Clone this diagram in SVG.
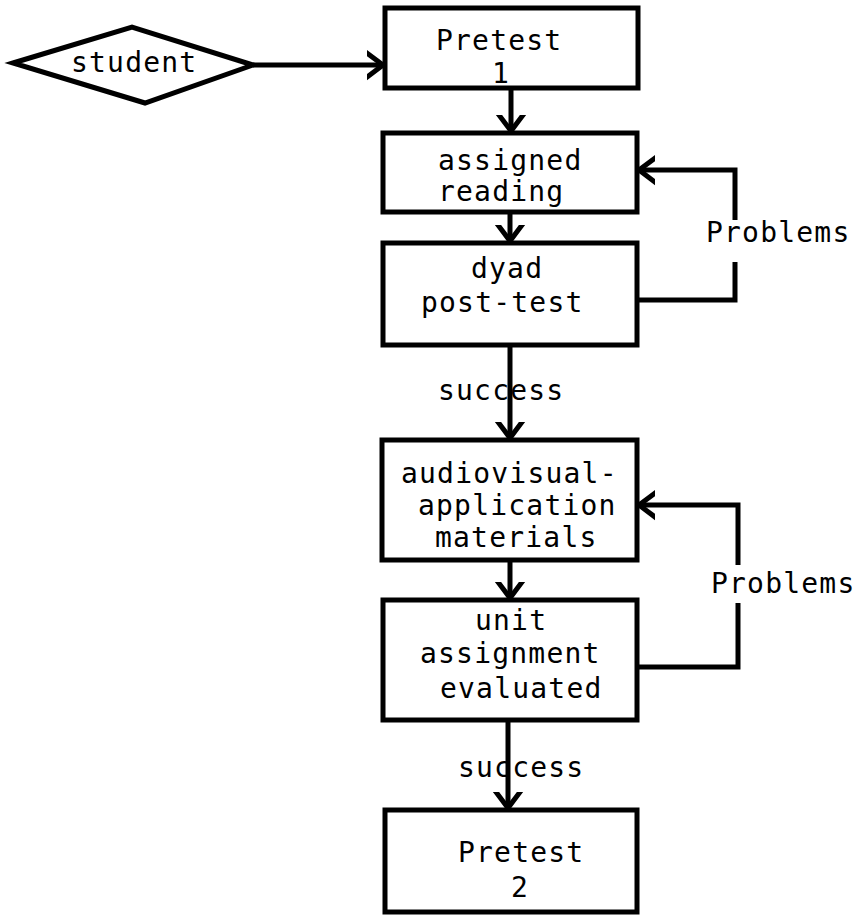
<svg xmlns="http://www.w3.org/2000/svg" width="856" height="915" viewBox="0 0 856 915">
<defs>
<style>
.box{fill:#fff;stroke:#000;stroke-width:5;stroke-linejoin:miter}
.ln{fill:none;stroke:#000;stroke-width:5}
text{font-family:"DejaVu Sans Mono","Liberation Mono",monospace;font-size:28px;letter-spacing:1.2px;fill:#000}
</style>
<marker id="chev" markerUnits="userSpaceOnUse" markerWidth="30" markerHeight="36" viewBox="-16 -18 30 36" refX="0" refY="0" orient="auto">
<path d="M-20,-15 L0,0 L-20,15" fill="none" stroke="#000" stroke-width="5" stroke-linecap="round"/>
</marker>
</defs>
<rect width="856" height="915" fill="#fff"/>
<g id="connectors">
<path class="ln" d="M253,65 H383" marker-end="url(#chev)"/>
<path class="ln" d="M511,88 V131" marker-end="url(#chev)"/>
<path class="ln" d="M510,212 V241" marker-end="url(#chev)"/>
<path class="ln" d="M637,300 H735 V262"/>
<path class="ln" d="M735,220 V170 H639" marker-end="url(#chev)"/>
<path class="ln" d="M510,345 V438" marker-end="url(#chev)"/>
<path class="ln" d="M510,560 V598" marker-end="url(#chev)"/>
<path class="ln" d="M637,667 H738 V603"/>
<path class="ln" d="M738,565 V505 H639" marker-end="url(#chev)"/>
<path class="ln" d="M508,720 V808" marker-end="url(#chev)"/>
<text x="706" y="242">Problems</text>
<text x="711" y="593">Problems</text>
<text x="438" y="400">success</text>
<text x="458" y="777">success</text>
</g>
<g id="student">
<polygon points="13,63 132,27 253,65 145,103" fill="#fff" stroke="#000" stroke-width="5" stroke-linejoin="miter"/>
<text x="71" y="72">student</text>
</g>
<g id="pretest1">
<rect class="box" x="385" y="8" width="253" height="80"/>
<text x="436" y="50">Pretest</text>
<text x="492" y="83">1</text>
</g>
<g id="assigned-reading">
<rect class="box" x="383" y="133" width="254" height="79"/>
<text x="438" y="170">assigned</text>
<text x="438" y="201">reading</text>
</g>
<g id="dyad-post-test">
<rect class="box" x="383" y="243" width="254" height="102"/>
<text x="471" y="278">dyad</text>
<text x="421" y="312">post-test</text>
</g>
<g id="audiovisual">
<rect class="box" x="382" y="440" width="255" height="120"/>
<text x="401" y="483">audiovisual-</text>
<text x="418" y="515">application</text>
<text x="435" y="547">materials</text>
</g>
<g id="unit-assignment">
<rect class="box" x="383" y="600" width="254" height="120"/>
<text x="475" y="630">unit</text>
<text x="420" y="663">assignment</text>
<text x="440" y="698">evaluated</text>
</g>
<g id="pretest2">
<rect class="box" x="385" y="810" width="252" height="102"/>
<text x="458" y="862">Pretest</text>
<text x="511" y="897">2</text>
</g>
</svg>
